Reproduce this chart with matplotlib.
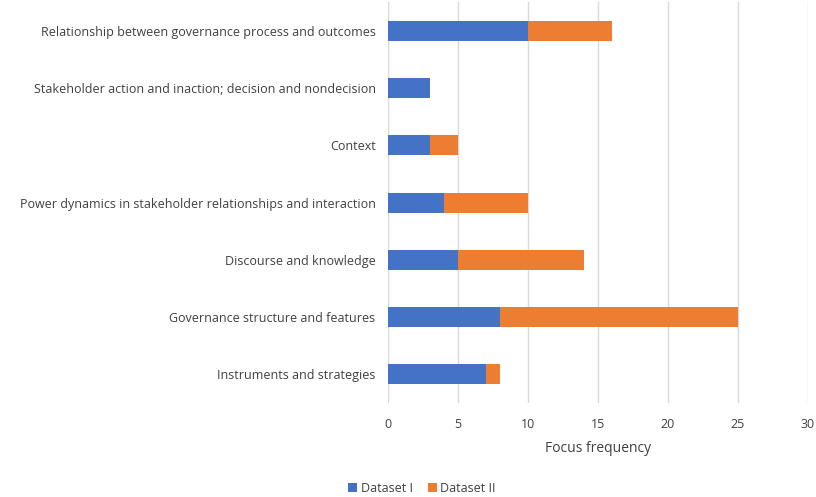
import numpy as np
import matplotlib.pyplot as plt

plt.rcParams['font.family'] = ['Open Sans', 'DejaVu Sans']

categories = [
    "Relationship between governance process and outcomes",
    "Stakeholder action and inaction; decision and nondecision",
    "Context",
    "Power dynamics in stakeholder relationships and interaction",
    "Discourse and knowledge",
    "Governance structure and features",
    "Instruments and strategies",
]
dataset_1 = [10, 3, 3, 4, 5, 8, 7]
dataset_2 = [6, 0, 2, 6, 9, 17, 1]

blue = '#4472C4'
orange = '#ED7D31'
text_col = '#404040'

fig = plt.figure(figsize=(8.16, 4.97), dpi=100)
ax = fig.add_axes([0.4755, 0.19, 0.5145, 0.805])

y = np.arange(len(categories))
ax.barh(y, dataset_1, height=0.35, color=blue, label='Dataset I', zorder=3)
ax.barh(y, dataset_2, left=dataset_1, height=0.35, color=orange, label='Dataset II', zorder=3)

ax.set_ylim(len(categories) - 0.5, -0.5)
ax.set_xlim(0, 30)
ax.set_xticks(range(0, 31, 5))
ax.set_yticks(y)
ax.set_yticklabels(categories)
ax.grid(axis='x', color='#d9d9d9', linewidth=1, zorder=0)
for s in ax.spines.values():
    s.set_visible(False)
ax.tick_params(length=0, colors=text_col, labelsize=9)
ax.tick_params(axis='x', pad=11)
ax.tick_params(axis='y', pad=9)
ax.set_xlabel('Focus frequency', color=text_col, fontsize=10, labelpad=7)

fig.legend(loc='center', bbox_to_anchor=(422 / 816, 1 - 488 / 497), ncol=2, frameon=False,
           fontsize=9, handlelength=0.7, handleheight=0.7, handletextpad=0.3,
           columnspacing=1.2, labelcolor=text_col)

fig.savefig('out.png', dpi=100)
